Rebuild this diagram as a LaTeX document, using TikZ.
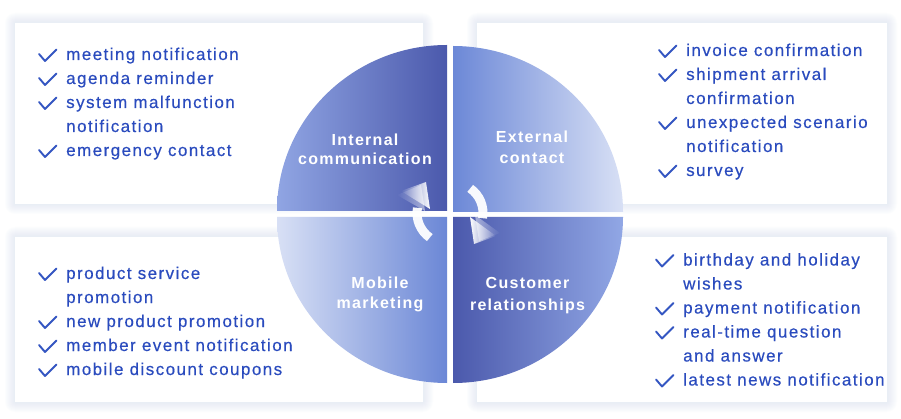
\documentclass[tikz,border=0pt]{standalone}
\usepackage{fontspec}
\setmainfont{Liberation Sans}
\newfontfamily\listfont[LetterSpace=8.5,FakeBold=0.35]{Liberation Sans}
\newfontfamily\labfont[LetterSpace=8]{Liberation Sans}
\usetikzlibrary{fadings}
\definecolor{txtblue}{HTML}{2A4BBE}
\definecolor{chkblue}{HTML}{3456C2}
\definecolor{shadowblue}{HTML}{D3DEF5}
\definecolor{qTLl}{HTML}{90A5E3}
\definecolor{qTLr}{HTML}{4B59AC}
\definecolor{qTRl}{HTML}{6C88D7}
\definecolor{qTRr}{HTML}{D8E0F5}
\definecolor{qBLl}{HTML}{D8E0F5}
\definecolor{qBLr}{HTML}{6B87D6}
\definecolor{qBRl}{HTML}{4B59AC}
\definecolor{qBRr}{HTML}{91A7E5}
\tikzset{
  item/.style={anchor=base west, inner sep=0pt, text=txtblue,
    font=\listfont\fontsize{17}{20}\selectfont},
  lab/.style={anchor=base, inner sep=0pt, text=white,
    font=\labfont\bfseries\fontsize{16}{19}\selectfont},
  chk/.style={draw=chkblue, line width=1.9pt, line join=round, line cap=round},
  arrowbody/.style={draw=white, line width=9pt, opacity=0.95},
}
\newcommand\softbox[4]{%
  \foreach \k in {1,...,10}{%
    \fill[shadowblue, opacity=0.05, rounded corners=\k pt] (#1-\k,#2-\k) rectangle (#3+\k,#4+\k);}
  \fill[white] (#1,#2) rectangle (#3,#4);}
\newcommand\chkmark[2]{\draw[chk] (#1-27,#2-6) -- (#1-21,#2+1) -- (#1-9.5,#2-10.5);}
\begin{document}
\begin{tikzpicture}[x=1pt,y=-1pt]
\fill[white] (0,0) rectangle (901,419);
\useasboundingbox (0,0) rectangle (901,419);
% boxes
\softbox{15}{23}{423}{204}
\softbox{477}{23}{887}{204}
\softbox{15}{237}{423}{402}
\softbox{477}{237}{887}{402}
% quadrants
\shade[left color=qTLl, right color=qTLr] (447,211) -- (277,211) arc[start angle=180, end angle=270, x radius=170, y radius=166] -- cycle;
\shade[left color=qTRl, right color=qTRr] (453,212) -- (453,46) arc[start angle=270, end angle=360, x radius=170, y radius=166] -- cycle;
\shade[left color=qBLl, right color=qBLr] (447,217) -- (277,217) arc[start angle=180, end angle=90, x radius=170, y radius=166] -- cycle;
\shade[left color=qBRl, right color=qBRr] (453,217) -- (623,217) arc[start angle=0, end angle=90, x radius=170, y radius=166] -- cycle;
% circular arrows
\draw[arrowbody] (429.8,237.6) arc[start angle=125, end angle=190, radius=30];
\fill[white, opacity=0.5, path fading=west] (397,195) -- (421,185) -- (425,211) -- cycle;
\fill[white, path fading=west] (401,191) -- (426,182) -- (430,209) -- cycle;
\draw[arrowbody] (470.2,188.4) arc[start angle=305, end angle=370, radius=30];
\fill[white, opacity=0.5, path fading=east] (500,233) -- (479,241) -- (475,215) -- cycle;
\fill[white, path fading=east] (496,236) -- (474,244) -- (470,217) -- cycle;
% labels
\node[lab] (l1a) at (365,145.5) {Internal};
\node[lab] (l1b) at (365,165) {communication};
\node[lab] (l2a) at (532,143) {External};
\node[lab] (l2b) at (532,164) {contact};
\node[lab] (l3a) at (380,288) {Mobile};
\node[lab] (l3b) at (380,308) {marketing};
\node[lab] (l4a) at (527.5,289) {Customer};
\node[lab] (l4b) at (527.5,310) {relationships};
% top-left list
\node[item] (a1) at (66,60) {meeting notification};\chkmark{66}{60}
\node[item] (a2) at (66,84) {agenda reminder};\chkmark{66}{84}
\node[item] (a3) at (66,108) {system malfunction};\chkmark{66}{108}
\node[item] (a4) at (66,132) {notification};
\node[item] (a5) at (66,156) {emergency contact};\chkmark{66}{156}
% top-right list
\node[item] (b1) at (686,56) {invoice confirmation};\chkmark{686}{56}
\node[item] (b2) at (686,80) {shipment arrival};\chkmark{686}{80}
\node[item] (b3) at (686,104) {confirmation};
\node[item] (b4) at (686,128) {unexpected scenario};\chkmark{686}{128}
\node[item] (b5) at (686,152) {notification};
\node[item] (b6) at (686,176) {survey};\chkmark{686}{176}
% bottom-left list
\node[item] (c1) at (66,279) {product service};\chkmark{66}{279}
\node[item] (c2) at (66,303) {promotion};
\node[item] (c3) at (66,327) {new product promotion};\chkmark{66}{327}
\node[item] (c4) at (66,351) {member event notification};\chkmark{66}{351}
\node[item] (c5) at (66,375) {mobile discount coupons};\chkmark{66}{375}
% bottom-right list
\node[item] (d1) at (683,265.5) {birthday and holiday};\chkmark{683}{265.5}
\node[item] (d2) at (683,289.5) {wishes};
\node[item] (d3) at (683,313.5) {payment notification};\chkmark{683}{313.5}
\node[item] (d4) at (683,337.5) {real-time question};\chkmark{683}{337.5}
\node[item] (d5) at (683,361.5) {and answer};
\node[item] (d6) at (683,385.5) {latest news notification};\chkmark{683}{385.5}
\end{tikzpicture}
\end{document}
